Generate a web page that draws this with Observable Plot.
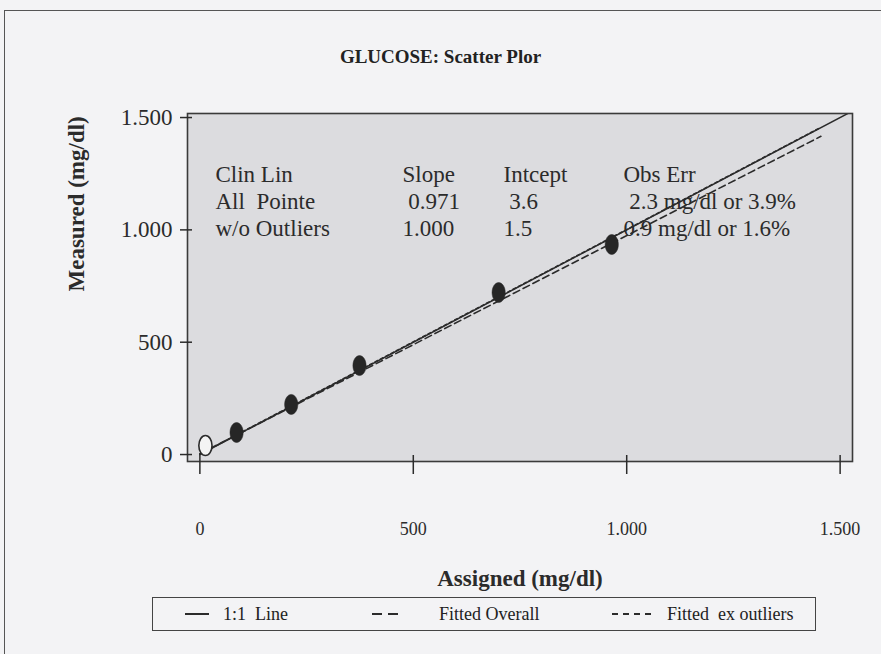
<!DOCTYPE html>
<html>
<head>
<meta charset="utf-8">
<script src="https://cdn.jsdelivr.net/npm/d3@7"></script>
<script src="https://cdn.jsdelivr.net/npm/@observablehq/plot@0.6"></script>
<style>
  html, body { margin: 0; padding: 0; background: #f3f3f5; }
  #wrap { position: relative; width: 881px; height: 654px; overflow: hidden; font-family: "Liberation Serif", "Times New Roman", serif; color: #222; }
  #border { position: absolute; left: 4px; top: 10px; width: 890px; height: 660px; border-top: 1.5px solid #555; border-left: 1.5px solid #555; }
  #title { position: absolute; left: 0; top: 45px; width: 881px; text-align: center; font-size: 19px; font-weight: bold; line-height: 24px; }
  #chart { position: absolute; left: 0; top: 80px; }
  #legend { position: absolute; left: 152px; top: 597px; width: 662px; height: 32px; border: 1.5px solid #444; box-sizing: content-box; }
  .li { position: absolute; top: 0; height: 32px; line-height: 32px; font-size: 18px; white-space: pre; }
  .ls { position: absolute; top: 10px; }
</style>
</head>
<body>
<div id="wrap">
  <div id="border"></div>
  <div id="title"></div>
  <div id="chart"></div>
  <div id="legend"></div>
</div>
<script>
// ---- data ----
const chartTitle = "GLUCOSE: Scatter Plor";
const xLabel = "Assigned (mg/dl)";
const yLabel = "Measured (mg/dl)";

const assigned = [86, 214, 374, 700, 965];
const measured = [98, 223, 396, 721, 935];
const outlierAssigned = [13];
const outlierMeasured = [40];

const xTicks = [0, 500, 1000, 1500];
const xTickLabels = ["0", "500", "1.000", "1.500"];
const yTicks = [0, 500, 1000, 1500];
const yTickLabels = ["0", "500", "1.000", "1.500"];

const lineNames = ["1:1  Line", "Fitted Overall", "Fitted  ex outliers"];
const lineSlopes = [1.0, 0.971, 1.000];
const lineIntercepts = [0, 3.6, 1.5];
const lineXStart = [0, 0, 0];
const lineXEnd = [1530, 1455, 1455];

const tableCol1 = ["Clin Lin", "All\u00a0 Pointe", "w/o Outliers"];
const tableCol2 = ["Slope", "\u00a00.971", "1.000"];
const tableCol3 = ["Intcept", "\u00a03.6", "1.5"];
const tableCol4 = ["Obs Err", "\u00a02.3 mg/dl or 3.9%", "0.9 mg/dl or 1.6%"];

// ---- styles / layout ----
const ink = "#2b2b2b";
const plotFill = "#dcdcdf";
const dashes = [null, "7,4", "3,3"];

const points = assigned.map((a, i) => ({a, m: measured[i]}));
const outliers = outlierAssigned.map((a, i) => ({a, m: outlierMeasured[i]}));
const lines = lineNames.map((name, i) => [lineXStart[i], lineXEnd[i]].map(x => ({name, x, y: lineSlopes[i] * x + lineIntercepts[i]})));

const ellipse = {
  draw(ctx, size) {
    const ry = Math.sqrt(size / Math.PI);
    const rx = ry * 0.66;
    const k = 0.5523;
    ctx.moveTo(rx, 0);
    ctx.bezierCurveTo(rx, k * ry, k * rx, ry, 0, ry);
    ctx.bezierCurveTo(-k * rx, ry, -rx, k * ry, -rx, 0);
    ctx.bezierCurveTo(-rx, -k * ry, -k * rx, -ry, 0, -ry);
    ctx.bezierCurveTo(k * rx, -ry, rx, -k * ry, rx, 0);
    ctx.closePath();
  }
};

document.getElementById("title").textContent = chartTitle;

const fmtX = d => xTickLabels[xTicks.indexOf(d)];
const fmtY = d => yTickLabels[yTicks.indexOf(d)];

const tableCols = [tableCol1, tableCol2, tableCol3, tableCol4];
const tableDx = [28, 215, 316, 436];

const plot = Plot.plot({
  width: 881,
  height: 515,
  marginTop: 33,
  marginBottom: 134,
  marginLeft: 187,
  marginRight: 29,
  style: {fontFamily: "'Liberation Serif', 'Times New Roman', serif", background: "transparent", color: ink},
  x: {domain: [-29, 1529]},
  y: {domain: [-31, 1518]},
  marks: [
    Plot.frame({fill: plotFill, stroke: null}),
    ...tableCols.map((col, c) => Plot.text([col.join("\n")], {
      frameAnchor: "top-left", dx: tableDx[c], dy: 87, textAnchor: "start",
      lineAnchor: "middle", lineHeight: 1.17, fontSize: 23, fill: ink
    })),
    ...lines.map((ln, i) => Plot.line(ln, {
      x: "x", y: "y", stroke: ink, strokeWidth: i === 0 ? 1.5 : 1.6,
      strokeDasharray: dashes[i], clip: true
    })),
    Plot.dot(points, {x: "a", y: "m", symbol: ellipse, r: 10, fill: "#262626", stroke: "#262626", strokeWidth: 0.5}),
    Plot.dot(outliers, {x: "a", y: "m", symbol: ellipse, r: 10, fill: "#f4f4f4", stroke: ink, strokeWidth: 1.6}),
    Plot.frame({stroke: "#3a3a3a", strokeWidth: 1.6}),
    Plot.axisX(xTicks, {tickSize: 19, dy: -6, tickPadding: 48, tickFormat: fmtX, fontSize: 18, label: null, stroke: ink, strokeWidth: 1.5, fill: ink}),
    Plot.axisY(yTicks, {tickSize: 12, dx: 5, tickPadding: 8, tickFormat: fmtY, fontSize: 23, label: null, stroke: ink, strokeWidth: 1.5, fill: ink}),
    Plot.text([xLabel], {frameAnchor: "bottom", dy: 124, fontSize: 23, fontWeight: "bold", fill: ink}),
    Plot.text([yLabel], {frameAnchor: "left", dx: -111, dy: 4, rotate: -90, fontSize: 23, fontWeight: "bold", fill: ink})
  ]
});
document.getElementById("chart").appendChild(plot);

// ---- legend ----
const legend = document.getElementById("legend");
const legendSampleX = [32, 219, 459];
const legendSampleW = [24, 30, 42];
const legendTextX = [70, 286, 514];
const legendDash = [null, "10,6", "6,5"];
lineNames.forEach((name, i) => {
  const ns = "http://www.w3.org/2000/svg";
  const svg = document.createElementNS(ns, "svg");
  svg.setAttribute("class", "ls");
  svg.setAttribute("width", legendSampleW[i]);
  svg.setAttribute("height", 12);
  svg.style.left = legendSampleX[i] + "px";
  const l = document.createElementNS(ns, "line");
  l.setAttribute("x1", 0); l.setAttribute("x2", legendSampleW[i]);
  l.setAttribute("y1", 6); l.setAttribute("y2", 6);
  l.setAttribute("stroke", ink); l.setAttribute("stroke-width", 2);
  if (legendDash[i]) l.setAttribute("stroke-dasharray", legendDash[i]);
  svg.appendChild(l);
  legend.appendChild(svg);
  const t = document.createElement("div");
  t.className = "li";
  t.style.left = legendTextX[i] + "px";
  t.textContent = name;
  legend.appendChild(t);
});
</script>
</body>
</html>
